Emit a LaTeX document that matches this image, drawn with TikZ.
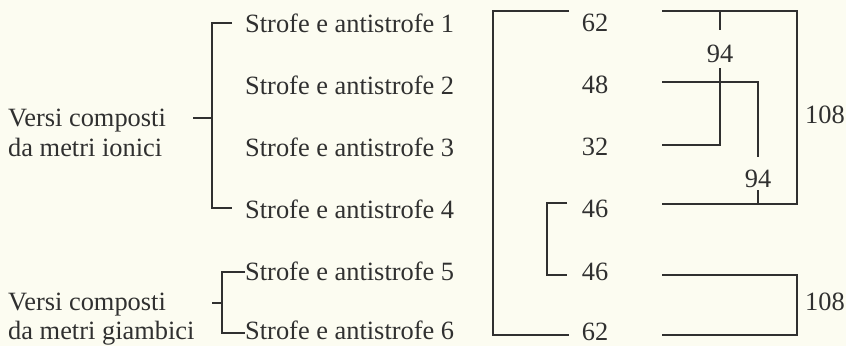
\documentclass[tikz,border=0pt]{standalone}
\usepackage{fontspec}
\setmainfont{Liberation Serif}
\definecolor{ink}{RGB}{48,48,48}
\definecolor{paper}{RGB}{252,252,241}
\begin{document}
\begin{tikzpicture}[x=1pt,y=-1pt,
  txt/.style={font=\fontsize{26.4}{30}\selectfont, text=ink, inner sep=0pt, anchor=base west},
  num/.style={font=\fontsize{26.4}{30}\selectfont, text=ink, inner sep=0pt, anchor=base},
  link/.style={draw=ink, line width=2.2pt, line cap=butt, line join=miter}]
\fill[paper] (0,0) rectangle (846,346);
\useasboundingbox (0,0) rectangle (846,346);

% group labels
\node[txt] (ion1) at (8,126) {Versi composti};
\node[txt] (ion2) at (8,156) {da metri ionici};
\node[txt] (gia1) at (8,310) {Versi composti};
\node[txt] (gia2) at (8,339) {da metri giambici};

% strophe pairs
\foreach \i/\y in {1/32,2/94,3/156,4/218,5/280,6/339}
  \node[txt] (s\i) at (245,\y) {Strofe e antistrofe \i};

% line counts
\node[num] (n1) at (595,31) {62};
\node[num] (n2) at (595,93) {48};
\node[num] (n3) at (595,155) {32};
\node[num] (n4) at (595,217) {46};
\node[num] (n5) at (595,280) {46};
\node[num] (n6) at (595,340) {62};

% sums
\node[num] (t1) at (720,62) {94};
\node[num] (t2) at (758,187) {94};
\node[txt] (h1) at (805,123) {108};
\node[txt] (h2) at (805,310) {108};

% ionic bracket
\coordinate (iT) at (212,23);
\coordinate (iB) at (212,208);
\coordinate (iX) at (193,118);
\draw[link] (232,23) -- (iT) -- (iB) -- (232,208);
\draw[link] (iX) -- (iX -| iT);

% iambic bracket
\coordinate (gT) at (222,272);
\coordinate (gB) at (222,333);
\coordinate (gX) at (212,303);
\draw[link] (245,272) -- (gT) -- (gB) -- (245,333);
\draw[link] (gX) -- (gX -| gT);

% outer pairing 62 / 62
\draw[link] (569,11) -- (493,11) -- (493,335) -- (569,335);
% pairing 46 / 46
\draw[link] (567,203) -- (547,203) -- (547,275) -- (567,275);

% right side: 62 + 46 = 108
\draw[link] (662,11) -- (797,11) -- (797,204) -- (662,204);
% 62 + 32 = 94
\draw[link] (720,11) -- (t1.north |- 0,30);
\draw[link] (720,68) -- (720,145) -- (662,145);
% 48 + 46 = 94
\draw[link] (662,82) -- (758,82) -- (758,157);
\draw[link] (758,190) -- (758,204);
% 46 + 62 = 108
\draw[link] (662,275) -- (797,275) -- (797,335) -- (662,335);
\end{tikzpicture}
\end{document}
